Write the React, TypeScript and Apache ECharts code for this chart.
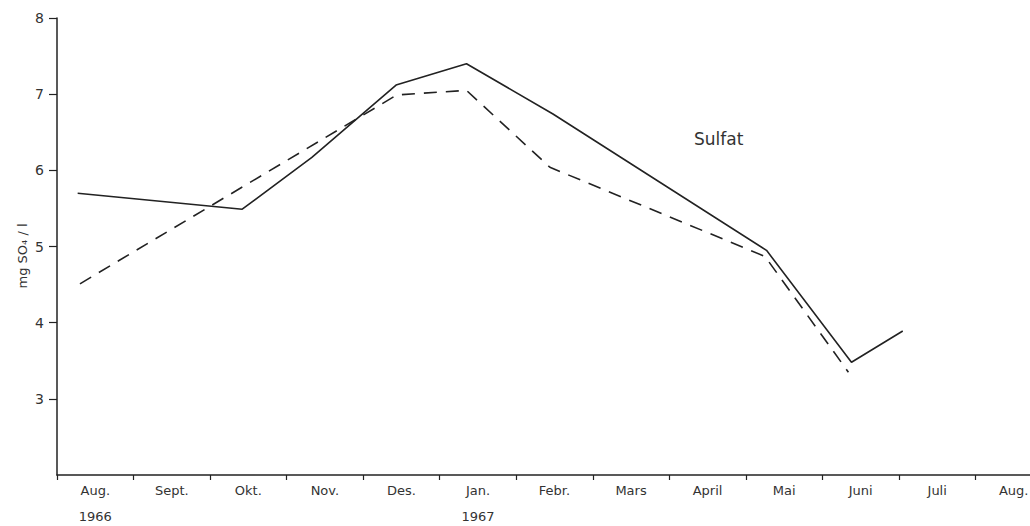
import React, { useEffect, useRef } from "react";
import * as echarts from "echarts";

const months = ["Aug.\n1966", "Sept.", "Okt.", "Nov.", "Des.", "Jan.\n1967", "Febr.", "Mars", "April", "Mai", "Juni", "Juli", "Aug."];
const yMin = 2;
const yMax = 8;
const seriesName = "Sulfat";
const yAxisTitle = "mg SO₄ / l";

// x in months from the start of Aug. 1966
const solidX = [0.27, 2.42, 3.33, 4.43, 5.35, 6.48, 9.27, 10.38, 11.05];
const solidY = [5.70, 5.49, 6.17, 7.12, 7.40, 6.74, 4.95, 3.48, 3.89];
const dashedX = [0.30, 4.44, 5.35, 6.44, 9.25, 10.34];
const dashedY = [4.51, 6.99, 7.05, 6.04, 4.87, 3.35];

const ink = "#222";
const font = "DejaVu Sans";

export default function App() {
  const ref = useRef<HTMLDivElement>(null);
  useEffect(() => {
    if (!ref.current) return;
    const chart = echarts.init(ref.current, null, { renderer: "svg" });
    chart.setOption({
      animation: false,
      backgroundColor: "#fff",
      grid: { left: 57, right: 8, top: 18, bottom: 51, containLabel: false, outerBoundsMode: "none" },
      xAxis: [
        {
          type: "value",
          min: 0,
          max: months.length,
          interval: 1,
          position: "bottom",
          axisLine: { show: true, lineStyle: { color: ink, width: 1.5 } },
          axisTick: { show: true, inside: false, length: 5, lineStyle: { color: ink, width: 1.2 } },
          axisLabel: { show: false },
          splitLine: { show: false },
        },
        {
          type: "category",
          data: months,
          boundaryGap: true,
          position: "bottom",
          axisLine: { show: false },
          axisTick: { show: false },
          axisLabel: {
            show: true,
            interval: 0,
            margin: 2,
            color: "#333",
            fontFamily: font,
            fontSize: 13,
            lineHeight: 26,
          },
          splitLine: { show: false },
        },
      ],
      yAxis: {
        type: "value",
        min: yMin,
        max: yMax,
        interval: 1,
        axisLine: { show: true, lineStyle: { color: ink, width: 1.5 } },
        axisTick: { show: true, inside: false, length: 8, lineStyle: { color: ink, width: 1.2 } },
        axisLabel: {
          showMinLabel: false,
          margin: 13,
          color: "#333",
          fontFamily: font,
          fontSize: 14,
          formatter: (v: number) => (v === yMin ? "" : String(v)),
        },
        splitLine: { show: false },
      },
      graphic: [
        {
          type: "text",
          x: 22,
          y: 256,
          rotation: Math.PI / 2,
          style: {
            text: yAxisTitle,
            fill: "#333",
            font: `13px "${font}"`,
            align: "center",
            verticalAlign: "middle",
          },
        },
        {
          type: "text",
          left: 694,
          top: 130,
          style: { text: seriesName, fill: "#333", font: `17px "${font}"` },
        },
      ],
      series: [
        {
          type: "line",
          xAxisIndex: 0,
          data: solidX.map((x, i) => [x, solidY[i]]),
          showSymbol: false,
          lineStyle: { color: ink, width: 1.6, type: "solid" },
        },
        {
          type: "line",
          xAxisIndex: 0,
          data: dashedX.map((x, i) => [x, dashedY[i]]),
          showSymbol: false,
          lineStyle: { color: ink, width: 1.6, type: [13, 9] },
        },
      ],
    });
    return () => chart.dispose();
  }, []);
  return (
    <div style={{ position: "absolute", left: 0, top: 0, width: 1030, height: 526, overflow: "hidden" }}>
      <div ref={ref} style={{ position: "absolute", left: 0, top: 0, width: 1060, height: 526 }} />
    </div>
  );
}
